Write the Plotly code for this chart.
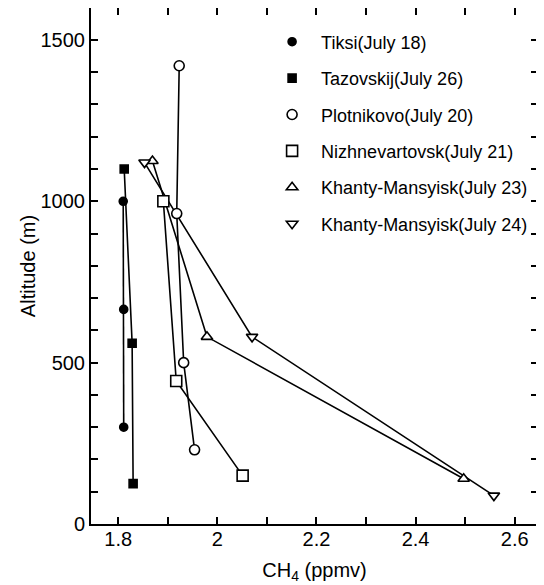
import plotly.graph_objects as go

# ---- data (CH4 ppmv, altitude m) ----
tiksi_x = [1.810, 1.811, 1.811]
tiksi_y = [1000, 665, 300]

tazov_x = [1.812, 1.828, 1.830]
tazov_y = [1100, 560, 125]

plotn_x = [1.923, 1.918, 1.932, 1.954]
plotn_y = [1420, 962, 500, 230]

nizh_x = [1.891, 1.917, 2.051]
nizh_y = [1000, 443, 150]

khm23_x = [1.869, 1.979, 2.497]
khm23_y = [1125, 580, 140]

khm24_x = [1.853, 2.070, 2.558]
khm24_y = [1120, 580, 88]

series_names = [
    "Tiksi(July 18)",
    "Tazovskij(July 26)",
    "Plotnikovo(July 20)",
    "Nizhnevartovsk(July 21)",
    "Khanty-Mansyisk(July 23)",
    "Khanty-Mansyisk(July 24)",
]

x_tickvals = [1.8, 2.0, 2.2, 2.4, 2.6]
x_ticktext = ["1.8", "2", "2.2", "2.4", "2.6"]
y_tickvals = [0, 500, 1000, 1500]
y_ticktext = ["0", "500", "1000", "1500"]

X_RANGE = [1.745, 2.647]
Y_RANGE = [0, 1599]

series = [
    (tiksi_x, tiksi_y, "circle", "black", 8),
    (tazov_x, tazov_y, "square", "black", 8),
    (plotn_x, plotn_y, "circle", "white", 10),
    (nizh_x, nizh_y, "square", "white", 11),
    (khm23_x, khm23_y, "triangle-up", "white", 10),
    (khm24_x, khm24_y, "triangle-down", "white", 10),
]

fig = go.Figure()

# lines first (no legend)
for (xs, ys, sym, fill, sz), name in zip(series, series_names):
    fig.add_trace(go.Scatter(
        x=xs, y=ys, mode="lines",
        line=dict(color="black", width=1.6),
        showlegend=False, hoverinfo="skip",
    ))

# markers with legend
for i, ((xs, ys, sym, fill, sz), name) in enumerate(zip(series, series_names)):
    fig.add_trace(go.Scatter(
        x=xs, y=ys, mode="markers", name=name,
        legendgroup=f"g{i}",
        marker=dict(symbol=sym, color=fill, size=sz,
                    line=dict(color="black", width=1.6)),
    ))

# empty trace on mirrored axes so that top/right ticks are drawn
fig.add_trace(go.Scatter(x=[], y=[], xaxis="x2", yaxis="y2",
                         showlegend=False, hoverinfo="skip"))

FONT = "Liberation Sans, Arial"
tick_common = dict(
    ticks="inside", ticklen=7, tickwidth=1.5, tickcolor="black",
    showgrid=False, zeroline=False, automargin=False,
)

fig.update_layout(
    xaxis=dict(
        range=X_RANGE, tickmode="array", tickvals=x_tickvals, ticktext=x_ticktext,
        showline=True, linecolor="black", linewidth=2,
        minor=dict(dtick=0.1, tick0=1.8, ticks="inside", ticklen=7,
                   tickwidth=1.5, tickcolor="black", showgrid=False),
        tickfont=dict(family=FONT, size=20, color="black"),
        ticklabelstandoff=-4,
        title=dict(text="CH<sub>4</sub> (ppmv)", standoff=14,
                   font=dict(family=FONT, size=20, color="black")),
        **tick_common,
    ),
    yaxis=dict(
        range=Y_RANGE, tickmode="array", tickvals=y_tickvals, ticktext=y_ticktext,
        showline=True, linecolor="black", linewidth=2,
        minor=dict(dtick=100, tick0=0, ticks="inside", ticklen=7,
                   tickwidth=1.5, tickcolor="black", showgrid=False),
        tickfont=dict(family=FONT, size=20, color="black"),
        title=dict(text="Altitude (m)", standoff=0,
                   font=dict(family=FONT, size=20, color="black")),
        **tick_common,
    ),
    xaxis2=dict(
        range=X_RANGE, overlaying="x", side="top", anchor="y2",
        tickmode="array", tickvals=x_tickvals, showticklabels=False,
        showline=True, linecolor="black", linewidth=2,
        minor=dict(dtick=0.1, tick0=1.8, ticks="inside", ticklen=7,
                   tickwidth=1.5, tickcolor="black", showgrid=False),
        **tick_common,
    ),
    yaxis2=dict(
        range=Y_RANGE, overlaying="y", side="right", anchor="x2",
        tickmode="array", tickvals=y_tickvals, showticklabels=False,
        showline=True, linecolor="black", linewidth=2,
        minor=dict(dtick=100, tick0=0, ticks="inside", ticklen=7,
                   tickwidth=1.5, tickcolor="black", showgrid=False),
        **tick_common,
    ),
    width=536, height=577,
    margin=dict(l=83, r=6, t=0, b=61, autoexpand=False),
    paper_bgcolor="white", plot_bgcolor="white",
    showlegend=True,
    legend=dict(
        x=0.385, y=0.97, xanchor="left", yanchor="top",
        bgcolor="rgba(0,0,0,0)",
        font=dict(family="Liberation Sans Narrow, Liberation Sans, Arial", size=18, color="black"),
        tracegroupgap=10, itemwidth=48,
    ),
)

fig.write_html("out.html")
